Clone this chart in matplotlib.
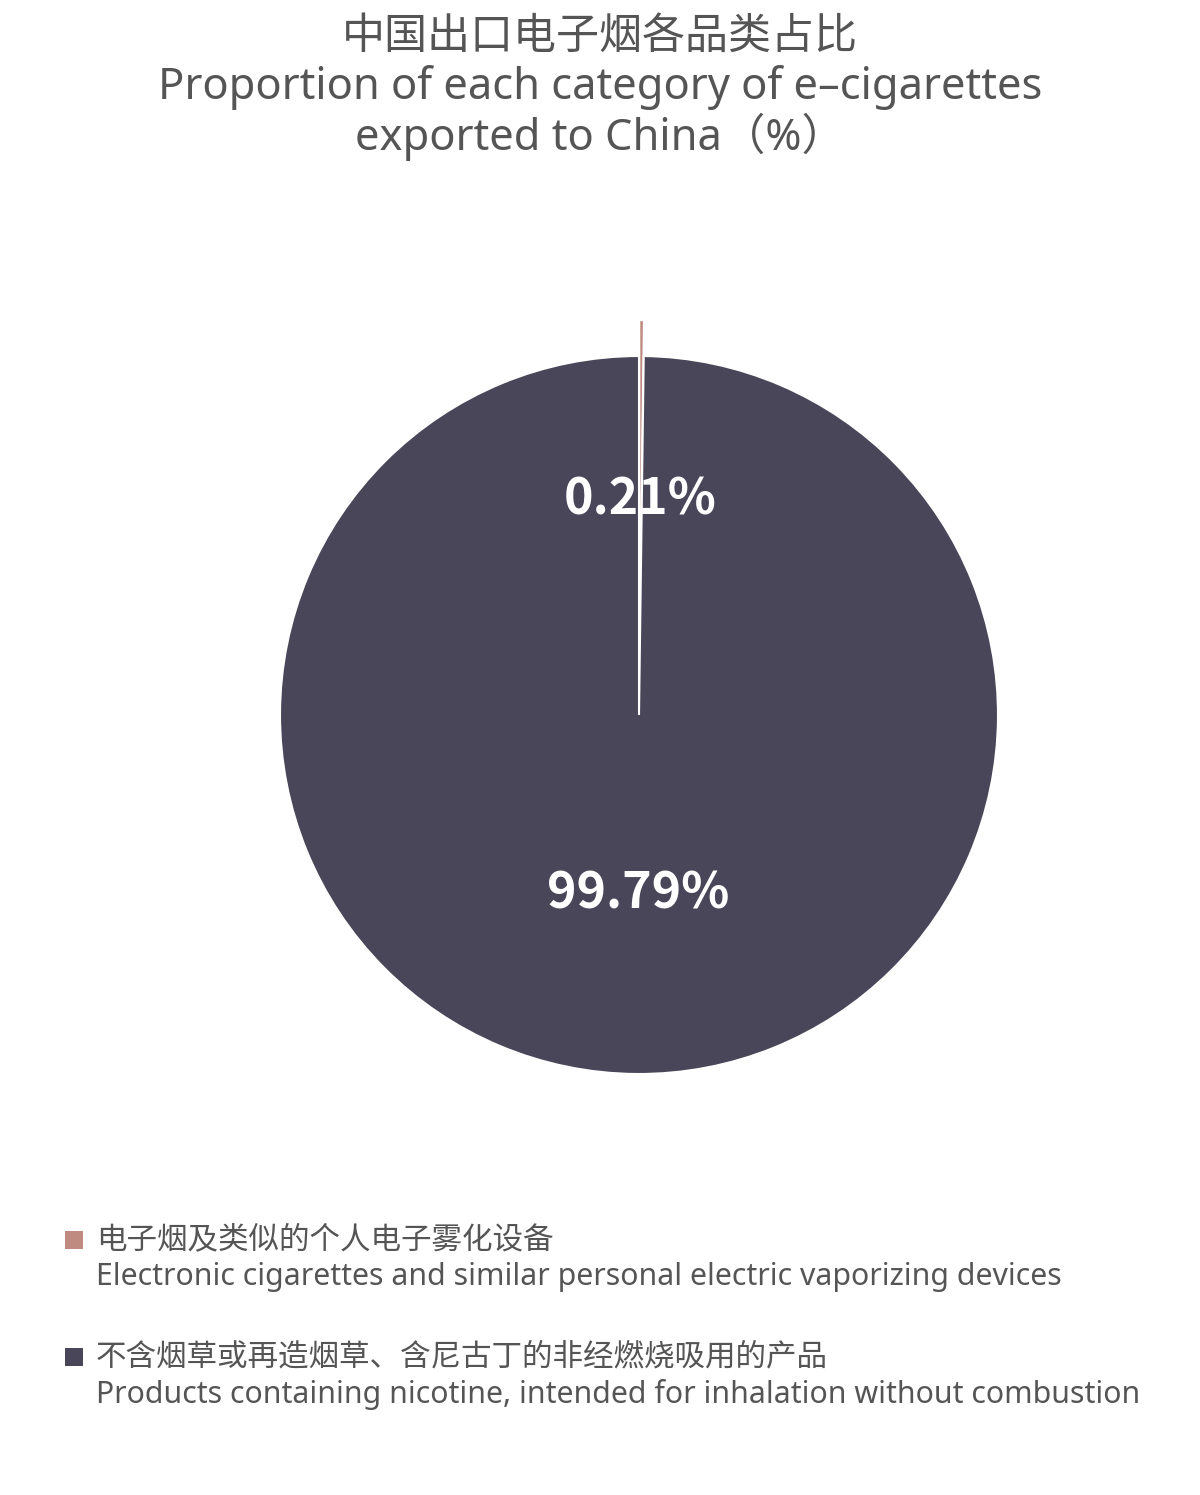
import matplotlib.pyplot as plt
from matplotlib.patches import Rectangle

plt.rcParams['font.family'] = ['Noto Sans CJK SC', 'DejaVu Sans']
EN_FONT = ['Noto Sans', 'Noto Sans CJK SC', 'DejaVu Sans']

# data
labels_cn = ['电子烟及类似的个人电子雾化设备',
             '不含烟草或再造烟草、含尼古丁的非经燃烧吸用的产品']
labels_en = ['Electronic cigarettes and similar personal electric vaporizing devices',
             'Products containing nicotine, intended for inhalation without combustion']
shares = [0.21, 99.79]
colors = ['#bf8a80', '#4a4659']

W, H = 1200, 1495
fig = plt.figure(figsize=(W / 100, H / 100), dpi=100)
fig.patch.set_facecolor('white')

# title
title_color = '#555555'
fig.text(0.5, 1 - 37 / H, '中国出口电子烟各品类占比', ha='center', va='center',
         fontsize=31, color=title_color)
fig.text(0.5, 1 - 87 / H, 'Proportion of each category of e\u2013cigarettes', ha='center',
         va='center', fontsize=31.3, color=title_color, family=EN_FONT)
fig.text(0.5, 1 - 137 / H, 'exported to China（%）', ha='center', va='center',
         fontsize=31.3, color=title_color, family=EN_FONT)

# pie
cx, cy, r = 639, 715, 359
ax = fig.add_axes([(cx - r) / W, (H - cy - r) / H, 2 * r / W, 2 * r / H])
wedges, texts, autotexts = ax.pie(
    shares, colors=colors, startangle=90, counterclock=False,
    explode=[0.1, 0], autopct='%.2f%%', pctdistance=0.5,
    wedgeprops=dict(edgecolor='white', linewidth=1.5),
    textprops=dict(color='white', fontsize=36, fontweight='bold'))
for w in wedges:
    w.set_clip_on(False)
ax.set_xlim(-1, 1)
ax.set_ylim(-1, 1)
ax.set_aspect('auto')
ax.axis('off')

# legend
leg_y = [1240, 1357]
for i in range(len(shares)):
    y = leg_y[i]
    fig.patches.append(Rectangle((65 / W, 1 - (y + 9) / H), 18 / W, 18 / H,
                                 transform=fig.transFigure, facecolor=colors[i],
                                 edgecolor='none'))
    fig.text(96 / W, 1 - y / H, labels_cn[i], ha='left', va='center',
             fontsize=22, color=title_color)
    fig.text(96 / W, 1 - (y + 37) / H, labels_en[i], ha='left', va='center',
             fontsize=21.8, color=title_color, family=EN_FONT)

fig.savefig('out.png', dpi=100)
